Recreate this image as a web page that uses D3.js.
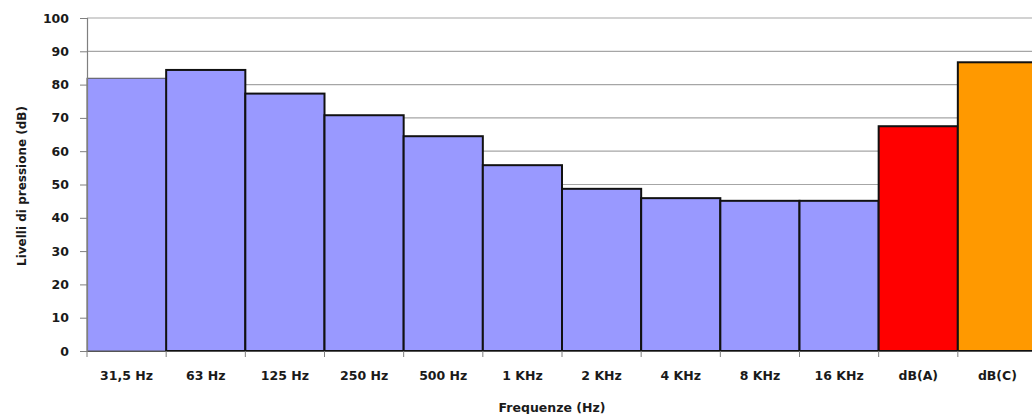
<!DOCTYPE html>
<html>
<head>
<meta charset="utf-8">
<script src="https://cdn.jsdelivr.net/npm/d3@7/dist/d3.min.js"></script>
<style>
  html, body { margin: 0; padding: 0; background: #fff; overflow: hidden; }
  svg { display: block; }
  text { font-family: "DejaVu Sans", sans-serif; }
</style>
</head>
<body>
<svg id="chart" width="1032" height="414"></svg>
<script>
const categories = ["31,5 Hz", "63 Hz", "125 Hz", "250 Hz", "500 Hz", "1 KHz", "2 KHz", "4 KHz", "8 KHz", "16 KHz", "dB(A)", "dB(C)"];
const values = [81.9, 84.4, 77.3, 70.8, 64.5, 55.8, 48.7, 45.9, 45.1, 45.1, 67.5, 86.7];
const barColors = ["#9999FF", "#9999FF", "#9999FF", "#9999FF", "#9999FF", "#9999FF", "#9999FF", "#9999FF", "#9999FF", "#9999FF", "#FF0000", "#FF9900"];
const yTicks = [0, 10, 20, 30, 40, 50, 60, 70, 80, 90, 100];
const xTitle = "Frequenze (Hz)";
const yTitle = "Livelli di pressione (dB)";

const FONT = "'DejaVu Sans', sans-serif";
const svg = d3.select("#chart");
const mLeft = 87, mRight = 1037, mTop = 18, mBottom = 351;

const x = d3.scaleBand().domain(categories).range([mLeft, mRight]).padding(0);
const y = d3.scaleLinear().domain([0, 100]).range([mBottom, mTop]);

// gridlines
svg.append("g").selectAll("line").data(yTicks.filter(d => d > 0)).join("line")
  .attr("x1", mLeft).attr("x2", mRight)
  .attr("y1", d => y(d)).attr("y2", d => y(d))
  .attr("stroke", "#a6a6a6").attr("stroke-width", 1.2);

// bars
svg.append("g").selectAll("rect").data(categories).join("rect")
  .attr("x", d => x(d))
  .attr("y", (d, i) => y(values[i]))
  .attr("width", x.bandwidth())
  .attr("height", (d, i) => y(0) - y(values[i]))
  .attr("fill", (d, i) => barColors[i])
  .attr("stroke", (d, i) => i === 0 ? "#555" : "#111")
  .attr("stroke-width", (d, i) => i === 0 ? 1 : 2);

// y axis
const yAxis = d3.axisLeft(y).tickValues(yTicks).tickSize(7).tickPadding(11);
const gy = svg.append("g").attr("transform", `translate(${mLeft},0)`).call(yAxis);
gy.select(".domain").attr("stroke", "#7f7f7f").attr("stroke-width", 1.2);
gy.selectAll(".tick line").attr("stroke", "#7f7f7f");
gy.selectAll(".tick text").attr("font-size", 12.5).attr("font-weight", "bold").attr("fill", "#1a1a1a")
  .attr("font-family", FONT);

// x axis
const xAxis = d3.axisBottom(x).tickSize(0).tickPadding(20);
const gx = svg.append("g").attr("transform", `translate(0,${mBottom})`).call(xAxis);
gx.select(".domain").attr("stroke", "#555").attr("stroke-width", 1.2);
gx.selectAll(".tick text").attr("font-size", 12.5).attr("font-weight", "bold").attr("fill", "#1a1a1a")
  .attr("font-family", FONT);
// boundary tick marks
svg.append("g").selectAll("line").data(categories).join("line")
  .attr("x1", d => x(d)).attr("x2", d => x(d))
  .attr("y1", mBottom).attr("y2", mBottom + 6)
  .attr("stroke", "#7f7f7f").attr("stroke-width", 1);

// titles
svg.append("text").attr("x", 552).attr("y", 412)
  .attr("text-anchor", "middle").attr("font-size", 12.5).attr("font-weight", "bold").attr("fill", "#1a1a1a")
  .attr("font-family", FONT)
  .text(xTitle);
svg.append("text").attr("transform", `translate(26,186) rotate(-90)`)
  .attr("text-anchor", "middle").attr("font-size", 12).attr("font-weight", "bold").attr("fill", "#1a1a1a")
  .attr("font-family", FONT)
  .text(yTitle);
</script>
</body>
</html>
